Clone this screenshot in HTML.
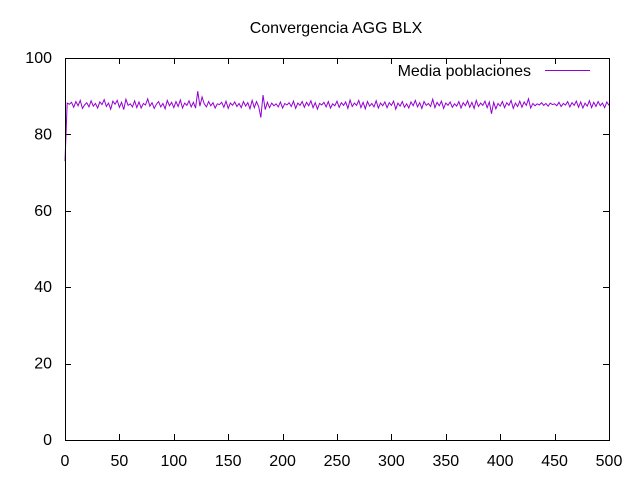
<!DOCTYPE html>
<html><head><meta charset="utf-8"><style>
body{margin:0;background:#fff}
svg text{font-family:"Liberation Sans",sans-serif;font-size:16px;fill:#000}
</style></head><body>
<svg id="chart" width="640" height="480" viewBox="0 0 640 480" xmlns="http://www.w3.org/2000/svg">
<rect width="640" height="480" fill="#fff"/>
<text x="336" y="33" text-anchor="middle">Convergencia AGG BLX</text>
<g id="ticks"></g>
<path id="series" fill="none" stroke="#9400d3" stroke-width="1"/>
<rect x="65.5" y="58.5" width="544" height="382" fill="none" stroke="#000" stroke-width="1"/>
<g>
<text x="531" y="76" text-anchor="end">Media poblaciones</text>
<line x1="545" y1="70.5" x2="590" y2="70.5" stroke="#9400d3"/>
</g>
</svg>
<script>
const xTicks=[0,50,100,150,200,250,300,350,400,450,500];
const yTicks=[0,20,40,60,80,100];
const genStep=2;
const values=[73,88.2,87.9,88.4,87.1,88.6,87.5,88.9,86.8,87.7,88.3,87.2,88.8,87.4,88.1,86.9,88.5,87.8,89.1,87.3,
88.2,86.6,88.7,87.9,88.9,87.1,88.4,86.5,89.2,87.6,88.0,87.2,88.8,87.0,88.5,86.9,88.1,87.7,89.3,87.4,
88.3,86.8,87.9,88.6,87.2,88.1,86.7,88.9,87.5,88.4,87.0,88.6,87.3,89.0,86.9,88.2,87.6,88.8,87.2,88.4,86.9,91.3,87.4,
89.8,88.0,87.2,88.6,87.5,88.3,86.9,88.0,87.8,88.4,87.1,88.7,86.8,88.2,87.6,88.5,87.3,88.1,87.0,88.6,
87.4,88.3,86.7,88.9,87.0,88.6,87.3,84.4,90.3,86.5,88.4,87.0,88.2,87.5,88.0,87.2,88.5,
86.9,88.1,87.7,88.3,87.3,88.7,86.8,88.2,87.6,88.6,87.1,88.4,87.5,88.8,87.0,88.3,86.6,88.1,87.7,88.4,
87.2,88.6,86.9,88.0,87.5,88.7,87.1,88.3,87.6,88.5,86.8,89.0,87.3,88.2,87.6,88.9,87.0,88.4,86.7,88.6,
87.4,88.1,87.2,88.8,86.9,88.2,87.5,88.5,87.0,88.3,87.6,88.7,86.6,88.2,87.4,88.6,87.1,88.0,86.9,88.5,
87.5,88.9,87.2,88.3,86.8,88.6,87.6,88.1,87.3,89.2,87.0,88.4,87.5,88.7,86.8,88.2,87.6,88.5,87.1,88.0,
87.4,88.6,86.9,88.3,87.5,88.8,87.1,88.4,86.8,88.9,87.3,88.2,87.6,88.7,87.0,88.5,85.4,88.4,86.7,88.1,87.4,88.6,87.0,88.3,87.6,88.9,86.8,88.2,87.3,88.7,
87.1,88.5,87.6,89.3,86.9,88.1,87.5,88.0,87.7,88.3,87.6,88.1,87.4,88.2,87.8,88.0,87.5,88.4,87.3,88.1,
87.7,88.6,87.2,88.3,87.6,88.7,87.1,88.5,86.9,88.2,87.4,88.8,87.0,88.4,87.3,88.6,87.5,88.2,87.0,88.5,87.6];
const X0=65,X1=609,Y0=440,Y1=58;
const xs=v=>X0+(v/500)*(X1-X0);
const ys=v=>Y0-(v/100)*(Y0-Y1);
const NS="http://www.w3.org/2000/svg";
const tg=document.getElementById('ticks');
function mk(tag,attrs){const e=document.createElementNS(NS,tag);for(const k in attrs)e.setAttribute(k,attrs[k]);return e;}
xTicks.forEach(t=>{
  const x=Math.round(xs(t))+0.5;
  const a=mk('line',{x1:x,y1:Y0,x2:x,y2:Y0-6,stroke:'#000'});
  
  
  tg.appendChild(a);
  const b=mk('line',{x1:x,y1:Y1,x2:x,y2:Y1+6,stroke:'#000'});
  
  
  tg.appendChild(b);
  const l=mk('text',{x:xs(t),y:466,'text-anchor':'middle'});
  l.textContent=t;
  
  
  tg.appendChild(l);
});
yTicks.forEach(t=>{
  const y=Math.round(ys(t))+0.5;
  const a=mk('line',{x1:X0,y1:y,x2:X0+6,y2:y,stroke:'#000'});
  
  
  tg.appendChild(a);
  const b=mk('line',{x1:X1,y1:y,x2:X1-6,y2:y,stroke:'#000'});
  
  
  tg.appendChild(b);
  const l=mk('text',{x:52,y:ys(t)+5,'text-anchor':'end'});
  l.textContent=t;
  
  
  tg.appendChild(l);
});
let d='';
values.forEach((v,i)=>{d+=(i?'L':'M')+xs(i*genStep).toFixed(2)+','+ys(v).toFixed(2);});
document.getElementById('series').setAttribute('d',d);
</script>
</body></html>
